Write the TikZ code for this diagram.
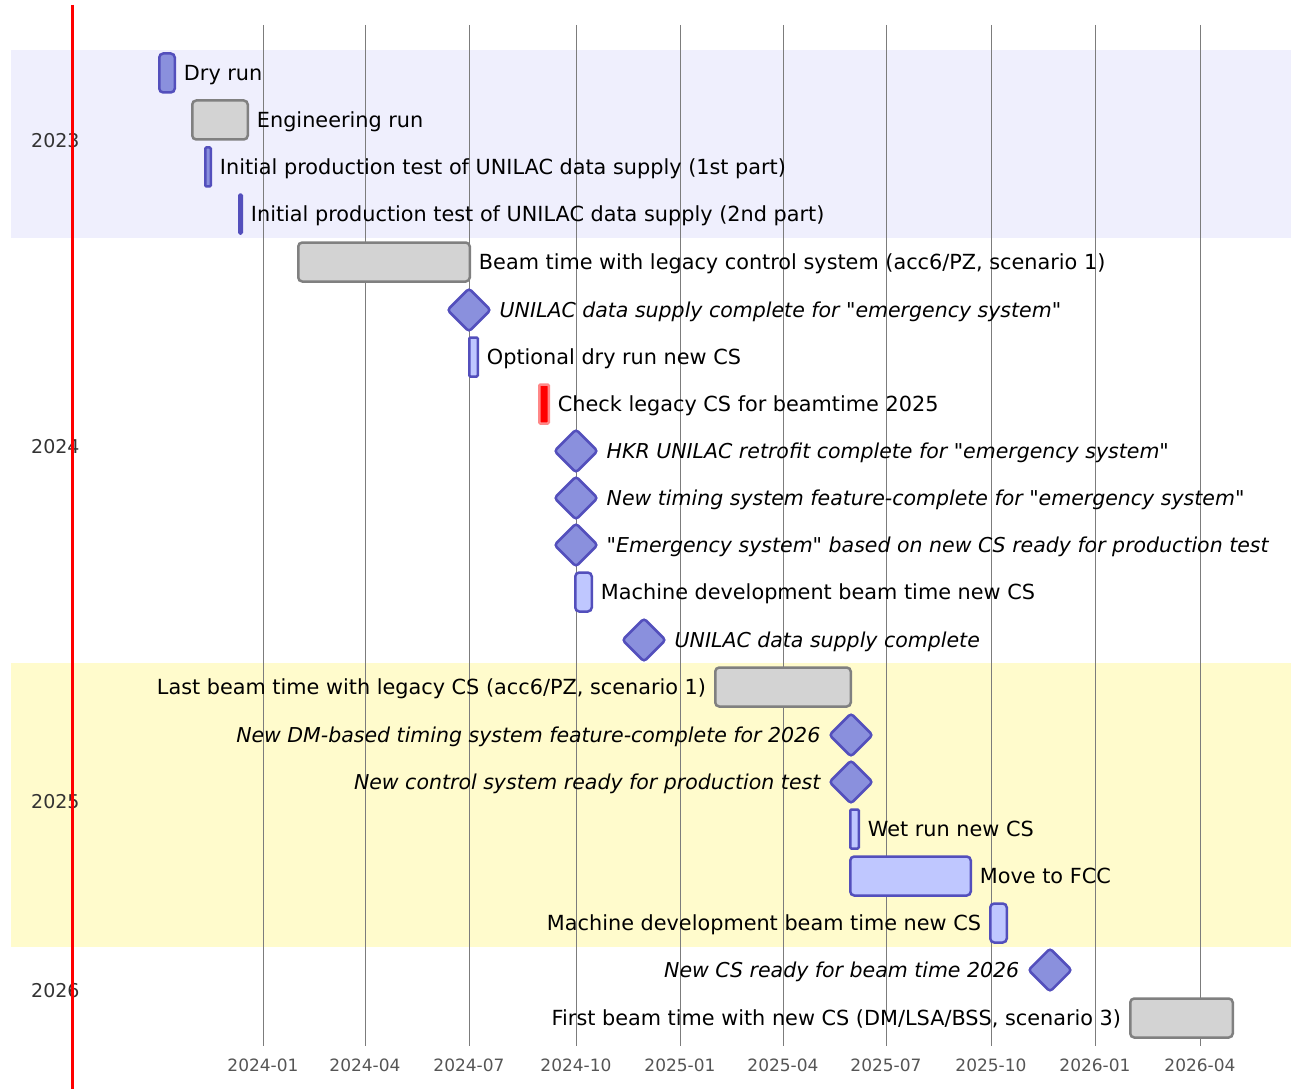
\documentclass[tikz,border=0pt]{standalone}
\usepackage{fontspec}
\setmainfont{DejaVu Sans}
\usetikzlibrary{shapes.geometric, positioning}

\definecolor{taskfill}{HTML}{8A90DD}
\definecolor{taskline}{HTML}{534FBC}
\definecolor{activefill}{HTML}{BFC7FF}
\definecolor{donefill}{HTML}{D3D3D3}
\definecolor{doneline}{HTML}{808080}
\definecolor{critline}{HTML}{FF8888}
\definecolor{secodd}{HTML}{EFEFFD}
\definecolor{seceven}{HTML}{FFFBCC}
\definecolor{gridline}{HTML}{7C7C7C}
\definecolor{ticktext}{HTML}{555555}
\definecolor{sectext}{HTML}{333333}

\begin{document}
\begin{tikzpicture}[x=1pt, y=-1pt,
  bar/.style={rounded corners=4pt, line width=2.5pt, minimum height=39pt, inner sep=0, outer sep=0},
  thin/.style={rounded corners=1.2pt},
  task/.style={bar, draw=taskline, fill=taskfill},
  activetask/.style={bar, draw=taskline, fill=activefill},
  donetask/.style={bar, draw=doneline, fill=donefill},
  crittask/.style={bar, draw=critline, fill=red},
  milestone/.style={diamond, draw=taskline, fill=taskfill, line width=2.5pt, rounded corners=3pt,
    minimum width=43pt, minimum height=43pt, inner sep=0, outer sep=0},
  lbl/.style={inner sep=0, text height=17pt, text depth=2pt, font=\fontsize{20.8}{24}\selectfont},
  mlbl/.style={lbl, font=\fontsize{20.5}{24}\selectfont\itshape},
  seclbl/.style={inner sep=0, anchor=west, text=sectext, font=\fontsize{19}{22}\selectfont},
  ticklbl/.style={inner sep=0, text=ticktext, font=\fontsize{17}{20}\selectfont}]

\useasboundingbox (0,0) rectangle (1291,1089);

% section bands
\fill[secodd] (11,50) rectangle (1291,238);
\fill[seceven] (11,663) rectangle (1291,947);

% grid and axis
\foreach \x/\t in {263/2024-01, 365/2024-04, 469/2024-07, 576/2024-10, 680/2025-01,
                   783/2025-04, 886/2025-07, 991/2025-10, 1095/2026-01, 1200/2026-04} {
  \draw[gridline, line width=1pt] (\x,25) -- (\x,1046);
  \node[ticklbl] at (\x,1065) {\t};
}

% sections
\node[seclbl] (s2023) at (31,141) {2023};
\node[seclbl] (s2024) at (31,447) {2024};
\node[seclbl] (s2025) at (31,802) {2025};
\node[seclbl] (s2026) at (31,991) {2026};

% today
\draw[red, line width=3pt] (72,5) -- (72,1089);

% 2023
\node[task, minimum width=15.5pt] (dryrun) at (167,73) {};
\node[lbl, right=9pt of dryrun] (dryrunlbl) {Dry run};
\node[donetask, minimum width=55.5pt] (engrun) at (220,120) {};
\node[lbl, right=9pt of engrun] (engrunlbl) {Engineering run};
\node[task, thin, minimum width=5.5pt] (initone) at (208,167) {};
\node[lbl, right=9pt of initone] (initonelbl) {Initial production test of UNILAC data supply (1st part)};
\node[task, thin, minimum width=2.5pt] (inittwo) at (240.5,214) {};
\node[lbl, right=9pt of inittwo] (inittwolbl) {Initial production test of UNILAC data supply (2nd part)};

% 2024
\node[donetask, minimum width=171.5pt] (legacy) at (384,262) {};
\node[lbl, right=9pt of legacy] (legacylbl) {Beam time with legacy control system (acc6/PZ, scenario 1)};
\node[milestone] (emsupply) at (469,310) {};
\node[mlbl, right=9pt of emsupply] (emsupplylbl) {UNILAC data supply complete for \textquotedbl emergency system\textquotedbl};
\node[activetask, thin, minimum width=8.5pt] (optdry) at (473.5,357) {};
\node[lbl, right=9pt of optdry] (optdrylbl) {Optional dry run new CS};
\node[crittask, thin, minimum width=9.5pt] (check) at (544,404) {};
\node[lbl, right=9pt of check] (checklbl) {Check legacy CS for beamtime 2025};
\node[milestone] (hkr) at (576,451) {};
\node[mlbl, right=9pt of hkr] (hkrlbl) {HKR UNILAC retrofit complete for \textquotedbl emergency system\textquotedbl};
\node[milestone] (timing) at (576,498) {};
\node[mlbl, right=9pt of timing] (timinglbl) {New timing system feature-complete for \textquotedbl emergency system\textquotedbl};
\node[milestone] (emready) at (576,545) {};
\node[mlbl, right=9pt of emready] (emreadylbl) {\textquotedbl Emergency system\textquotedbl\ based on new CS ready for production test};
\node[activetask, minimum width=16.5pt] (mdone) at (583.5,592) {};
\node[lbl, right=9pt of mdone] (mdonelbl) {Machine development beam time new CS};
\node[milestone] (supply) at (644,640) {};
\node[mlbl, right=9pt of supply] (supplylbl) {UNILAC data supply complete};

% 2025
\node[donetask, minimum width=135.5pt] (lastbeam) at (783,687) {};
\node[lbl, left=9pt of lastbeam] (lastbeamlbl) {Last beam time with legacy CS (acc6/PZ, scenario 1)};
\node[milestone] (dmtiming) at (851,735) {};
\node[mlbl, left=9pt of dmtiming] (dmtiminglbl) {New DM-based timing system feature-complete for 2026};
\node[milestone] (csready) at (851,782) {};
\node[mlbl, left=9pt of csready] (csreadylbl) {New control system ready for production test};
\node[activetask, thin, minimum width=8.5pt] (wetrun) at (854.5,829) {};
\node[lbl, right=9pt of wetrun] (wetrunlbl) {Wet run new CS};
\node[activetask, minimum width=120.5pt] (fcc) at (910.5,876) {};
\node[lbl, right=9pt of fcc] (fcclbl) {Move to FCC};
\node[activetask, minimum width=16.5pt] (mdtwo) at (998.5,923) {};
\node[lbl, left=9pt of mdtwo] (mdtwolbl) {Machine development beam time new CS};

% 2026
\node[milestone] (beamready) at (1050,970) {};
\node[mlbl, left=9pt of beamready] (beamreadylbl) {New CS ready for beam time 2026};
\node[donetask, minimum width=102.5pt] (firstbeam) at (1181.5,1018) {};
\node[lbl, left=9pt of firstbeam] (firstbeamlbl) {First beam time with new CS (DM/LSA/BSS, scenario 3)};

\end{tikzpicture}
\end{document}
